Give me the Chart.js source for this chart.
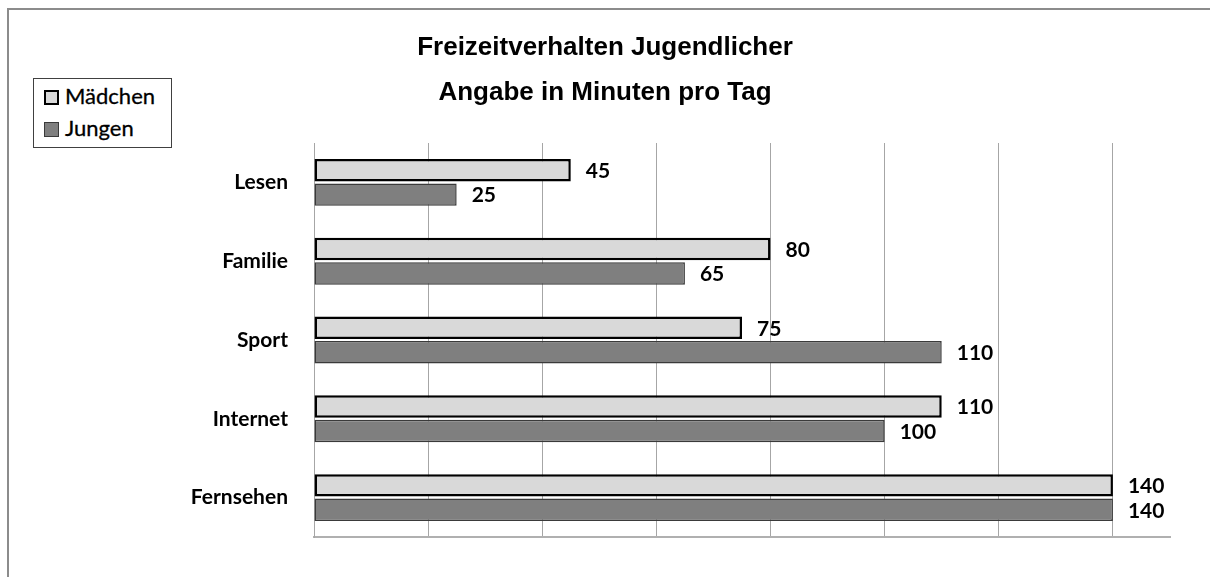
<!DOCTYPE html>
<html lang="de">
<head>
<meta charset="utf-8">
<title>Freizeitverhalten Jugendlicher</title>
<script src="https://cdn.jsdelivr.net/npm/chart.js@4.4.1/dist/chart.umd.min.js"></script>
<style>
  html, body { margin: 0; padding: 0; background: #fff; }
  #wrap { position: relative; width: 1210px; height: 577px; overflow: hidden; }
  #frame {
    position: absolute; left: 7px; top: 8px; right: 0; bottom: -4px;
    border-top: 2px solid #8c8c8c; border-left: 2px solid #8c8c8c;
  }
  #chart { position: absolute; left: 0; top: 0; }
  #legend {
    position: absolute; left: 33px; top: 78px; width: 137px; height: 68px;
    border: 1px solid #404040; background: #fff;
    font-family: Lato, "Open Sans", sans-serif; font-size: 22px; color: #000;
    -webkit-text-stroke: 0.3px #000;
  }
  #legend .item { position: absolute; left: 10px; height: 24px; line-height: 24px; white-space: nowrap; }
  #legend .box { display: inline-block; box-sizing: border-box; width: 15px; height: 15px; vertical-align: -1px; margin-right: 6px; }
</style>
</head>
<body>
<div id="wrap">
  <div id="frame"></div>
  <canvas id="chart" width="1210" height="577"></canvas>
  <div id="legend"></div>
</div>
<script>
// ============================================
// DATA
// ============================================
const categories = ['Lesen', 'Familie', 'Sport', 'Internet', 'Fernsehen'];
const maedchen = [45, 80, 75, 110, 140];
const jungen = [25, 65, 110, 100, 140];
const titleLines = ['Freizeitverhalten Jugendlicher', 'Angabe in Minuten pro Tag'];

// value labels next to each bar end
const valueLabels = {
    id: 'valueLabels',
    afterDatasetsDraw(chart) {
        const ctx = chart.ctx;
        ctx.save();
        ctx.font = 'bold 21px Lato, "Open Sans", sans-serif';
        ctx.fillStyle = '#000';
        ctx.textAlign = 'left';
        ctx.textBaseline = 'middle';
        chart.data.datasets.forEach(function(ds, i) {
            chart.getDatasetMeta(i).data.forEach(function(bar, j) {
                ctx.fillText(String(ds.data[j]), bar.x + 15, bar.y + 1);
            });
        });
        ctx.restore();
    }
};

const chart = new Chart(document.getElementById('chart'), {
    type: 'bar',
    data: {
        labels: categories,
        datasets: [{
            label: 'Mädchen',
            data: maedchen,
            backgroundColor: '#d9d9d9',
            borderColor: '#000000',
            borderWidth: 2.5,
            borderSkipped: false
        }, {
            label: 'Jungen',
            data: jungen,
            backgroundColor: '#7f7f7f',
            borderColor: '#3a3a3a',
            borderWidth: 1.5,
            borderSkipped: false
        }]
    },
    plugins: [valueLabels],
    options: {
        indexAxis: 'y',
        responsive: false,
        animation: false,
        categoryPercentage: 0.62,
        barPercentage: 0.92,
        layout: { padding: { left: 40, right: 40, top: 0, bottom: 40 } },
        plugins: {
            legend: { display: false },
            tooltip: { enabled: false },
            title: {
                display: true,
                text: titleLines,
                color: '#000',
                font: { family: '"Liberation Sans", Arial, sans-serif', size: 26, weight: 'bold', lineHeight: 45 / 26 },
                padding: { top: 25, bottom: 28 }
            }
        },
        scales: {
            x: {
                min: 0,
                max: 150,
                ticks: { display: false, stepSize: 20, includeBounds: false },
                grid: { color: '#a6a6a6', lineWidth: 1, drawTicks: false },
                border: { color: '#b0b0b0', width: 2 }
            },
            y: {
                grid: { display: false, drawTicks: false },
                border: { display: true, color: '#a6a6a6', width: 1 },
                ticks: {
                    color: '#000',
                    padding: 26,
                    font: { family: 'Lato, "Open Sans", sans-serif', size: 21, weight: 'bold' }
                },
                afterFit: function(scale) { scale.width = 274; }
            }
        }
    }
});

// legend box in the upper left corner
const legendEl = document.getElementById('legend');
chart.data.datasets.forEach(function(ds, i) {
    const item = document.createElement('div');
    item.className = 'item';
    item.style.top = (5 + i * 32) + 'px';
    const box = document.createElement('span');
    box.className = 'box';
    box.style.background = ds.backgroundColor;
    box.style.border = (i === 0 ? 2 : 1) + 'px solid ' + ds.borderColor;
    item.appendChild(box);
    item.appendChild(document.createTextNode(ds.label));
    legendEl.appendChild(item);
});
</script>
</body>
</html>
